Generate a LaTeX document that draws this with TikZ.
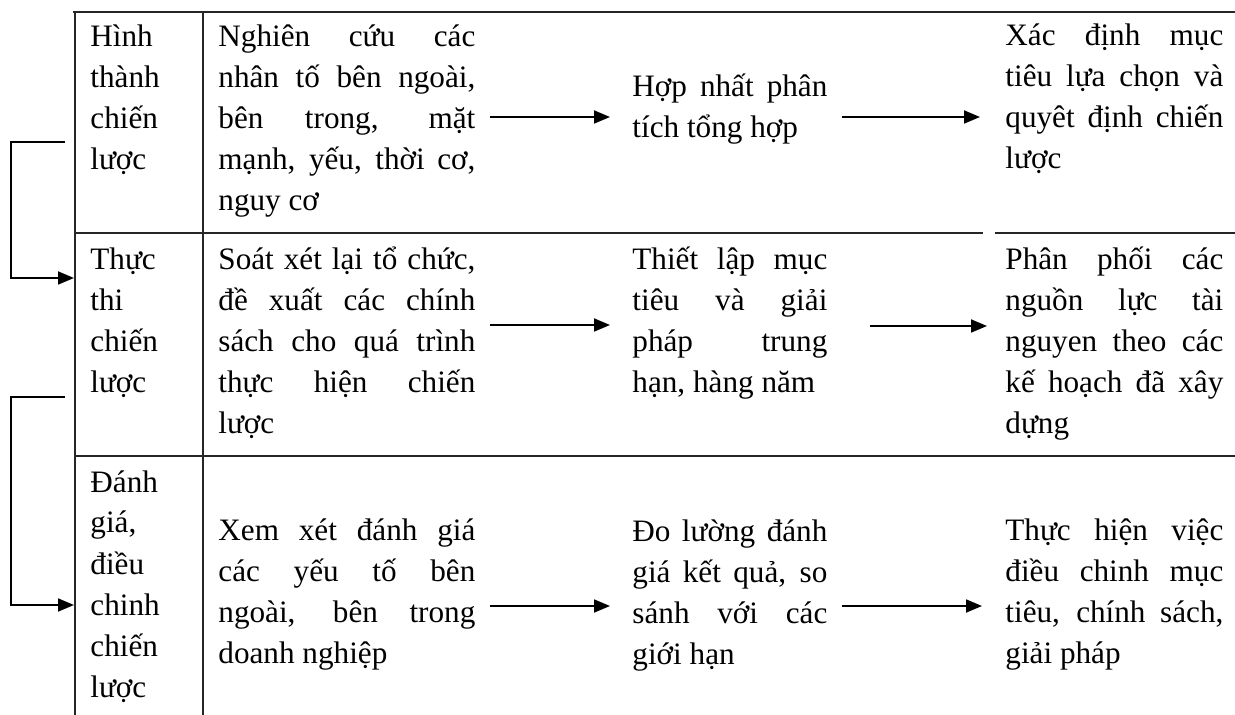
\documentclass[tikz,border=0pt]{standalone}
\usepackage{fontspec}
\setmainfont{Liberation Serif}
\usetikzlibrary{arrows.meta}
\newcommand\JL[2]{\hbox to #1{\spaceskip=0.25em plus 1fil\relax #2}}
\newcommand\LL[1]{\hbox{#1}}
\newcommand\cellbox[1]{\vtop{\baselineskip=20.5pt\lineskiplimit=-100pt\relax #1}}
\begin{document}
\begin{tikzpicture}[x=0.5pt,y=-0.5pt,
  txt/.style={anchor=base west, inner sep=0pt, font=\fontsize{15.6pt}{20.5pt}\selectfont},
  rule/.style={line width=1.1pt, draw=black!85},
  arr/.style={line width=0.9pt, draw=black, -{Triangle[length=8pt,width=6.5pt]}}]
\useasboundingbox (0,0) rectangle (1235,715);
% table rules
\draw[rule] (73,12) -- (1235,12);
\draw[rule] (75,12) -- (75,715);
\draw[rule] (203,12) -- (203,715);
\draw[rule] (75,233) -- (983,233);
\draw[rule] (995,233) -- (1235,233);
\draw[rule] (75,456) -- (1235,456);
% cells
\def\wB{128.5pt}\def\wC{97.5pt}\def\wD{109pt}
\node[txt] (r1c1) at (90,47) {\cellbox{\LL{Hình}\LL{thành}\LL{chiến}\LL{lược}}};
\node[txt] (r1c2) at (218,47) {\cellbox{\JL{\wB}{Nghiên cứu các}\JL{\wB}{nhân tố bên ngoài,}\JL{\wB}{bên trong, mặt}\JL{\wB}{mạnh, yếu, thời cơ,}\LL{nguy cơ}}};
\node[txt] (r1c3) at (632,97) {\cellbox{\JL{\wC}{Hợp nhất phân}\LL{tích tổng hợp}}};
\node[txt] (r1c4) at (1005,46) {\cellbox{\JL{\wD}{Xác định mục}\JL{\wD}{tiêu lựa chọn và}\JL{\wD}{quyêt định chiến}\LL{lược}}};
\node[txt] (r2c1) at (90,270) {\cellbox{\LL{Thực}\LL{thi}\LL{chiến}\LL{lược}}};
\node[txt] (r2c2) at (218,270) {\cellbox{\JL{\wB}{Soát xét lại tổ chức,}\JL{\wB}{đề xuất các chính}\JL{\wB}{sách cho quá trình}\JL{\wB}{thực hiện chiến}\LL{lược}}};
\node[txt] (r2c3) at (632,270) {\cellbox{\JL{\wC}{Thiết lập mục}\JL{\wC}{tiêu và giải}\JL{\wC}{pháp trung}\LL{hạn, hàng năm}}};
\node[txt] (r2c4) at (1005,270) {\cellbox{\JL{\wD}{Phân phối các}\JL{\wD}{nguồn lực tài}\JL{\wD}{nguyen theo các}\JL{\wD}{kế hoạch đã xây}\LL{dựng}}};
\node[txt] (r3c1) at (90,492) {\cellbox{\LL{Đánh}\LL{giá,}\LL{điều}\LL{chinh}\LL{chiến}\LL{lược}}};
\node[txt] (r3c2) at (218,540) {\cellbox{\JL{\wB}{Xem xét đánh giá}\JL{\wB}{các yếu tố bên}\JL{\wB}{ngoài, bên trong}\LL{doanh nghiệp}}};
\node[txt] (r3c3) at (632,541) {\cellbox{\JL{\wC}{Đo lường đánh}\JL{\wC}{giá kết quả, so}\JL{\wC}{sánh với các}\LL{giới hạn}}};
\node[txt] (r3c4) at (1005,540) {\cellbox{\JL{\wD}{Thực hiện việc}\JL{\wD}{điều chinh mục}\JL{\wD}{tiêu, chính sách,}\LL{giải pháp}}};
% arrow end points
\coordinate (a1s) at (490,117); \coordinate (a1e) at (610,117);
\coordinate (a2s) at (842,117); \coordinate (a2e) at (980,117);
\coordinate (a3s) at (490,325); \coordinate (a3e) at (610,325);
\coordinate (a4s) at (870,326); \coordinate (a4e) at (987,326);
\coordinate (a5s) at (490,606); \coordinate (a5e) at (610,606);
\coordinate (a6s) at (842,606); \coordinate (a6e) at (982,606);
\foreach \i in {1,...,6} {\draw[arr] (a\i s) -- (a\i e);}
% feedback connectors
\coordinate (f1) at (65,142); \coordinate (g1) at (74,278);
\coordinate (f2) at (65,397); \coordinate (g2) at (74,605);
\draw[arr] (f1) -- (11,142) -- (11,278) -- (g1);
\draw[arr] (f2) -- (11,397) -- (11,605) -- (g2);
\end{tikzpicture}
\end{document}
